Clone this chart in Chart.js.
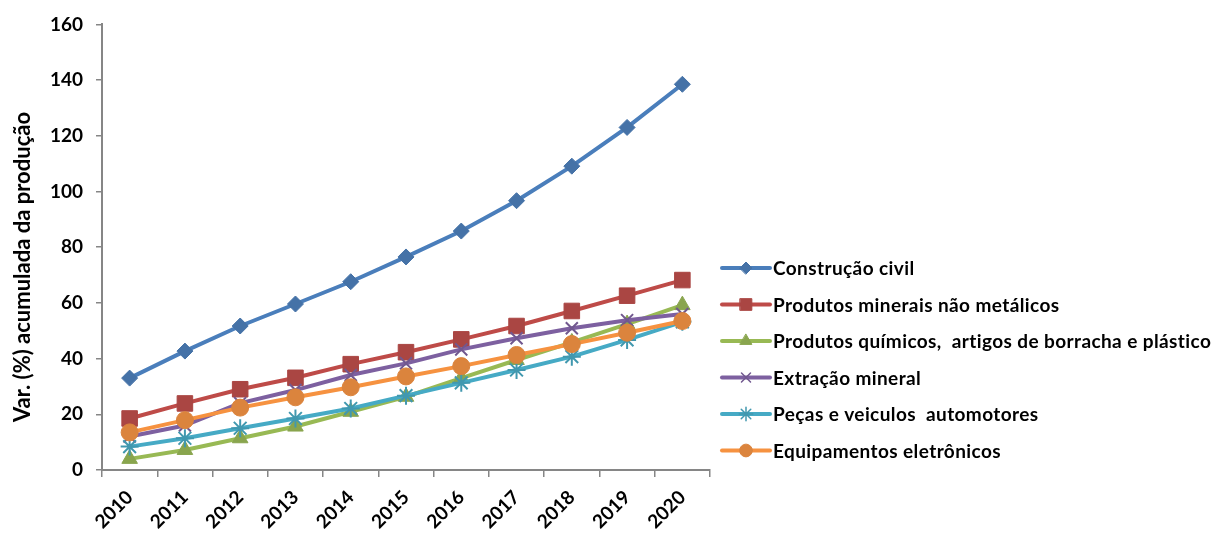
<!DOCTYPE html>
<html lang="pt">
<head>
<meta charset="utf-8">
<title>Var. (%) acumulada da produção</title>
<script src="https://cdn.jsdelivr.net/npm/chart.js@4.4.1/dist/chart.umd.min.js"></script>
<style>
    html, body { margin: 0; padding: 0; background: #fff; }
    #wrap { position: relative; width: 1223px; height: 534px; }
</style>
</head>
<body>
<div id="wrap"><canvas id="prodChart"></canvas></div>
<script>
// Variação acumulada da produção por setor, 2010-2020
const years = ['2010', '2011', '2012', '2013', '2014', '2015', '2016', '2017', '2018', '2019', '2020'];

const construcaoCivil = [33, 42.7, 51.7, 59.6, 67.6, 76.5, 85.8, 96.7, 109.1, 123, 138.5];
const mineraisNaoMetalicos = [18.5, 23.9, 29.0, 33.1, 38.0, 42.3, 46.9, 51.7, 57.1, 62.6, 68.2];
const quimicosBorracha = [4, 7.2, 11.4, 15.6, 20.9, 26.3, 33, 39.5, 45.8, 52.4, 59.2];
const extracaoMineral = [12, 16, 24, 28.7, 34.1, 38.3, 43.3, 47.3, 50.9, 53.8, 56];
const pecasVeiculos = [8.4, 11.4, 15.0, 18.5, 22.1, 26.7, 31.3, 35.9, 40.7, 46.7, 53.2];
const eletronicos = [13.5, 17.9, 22.4, 26.1, 29.7, 33.6, 37.3, 41.3, 45.2, 49.3, 53.5];

const yTicks = [0, 20, 40, 60, 80, 100, 120, 140, 160];

const FONT = 'Lato, "Open Sans", sans-serif';
const AXIS_GREY = '#868686';

const SERIES = [
    { label: 'Construção civil', data: construcaoCivil, line: '#4A7EBB', fill: '#4572A7', style: 'rectRot', r: 8 },
    { label: 'Produtos minerais não metálicos', data: mineraisNaoMetalicos, line: '#BE4B48', fill: '#AA4643', style: 'rect', r: 11 },
    { label: 'Produtos químicos,  artigos de borracha e plástico', data: quimicosBorracha, line: '#98B954', fill: '#89A54E', style: 'triangle', r: 9 },
    { label: 'Extração mineral', data: extracaoMineral, line: '#7D60A0', fill: '#71588F', style: 'crossRot', r: 8.5 },
    { label: 'Peças e veiculos  automotores', data: pecasVeiculos, line: '#46AAC5', fill: '#4198AF', style: 'star', r: 9 },
    { label: 'Equipamentos eletrônicos', data: eletronicos, line: '#F69240', fill: '#DB843D', style: 'circle', r: 8.5 },
];

const isStroke = (style) => style === 'crossRot' || style === 'star';

const datasets = SERIES.map((s, i) => ({
    label: s.label,
    data: s.data,
    borderColor: s.line,
    backgroundColor: s.fill,
    borderWidth: 4,
    borderJoinStyle: 'round',
    borderCapStyle: 'round',
    tension: 0,
    pointStyle: s.style,
    pointRadius: s.r,
    pointHoverRadius: s.r,
    pointBackgroundColor: s.fill,
    pointBorderColor: s.fill,
    pointBorderWidth: isStroke(s.style) ? 2 : 1,
    // later series sit on top
    order: SERIES.length - 1 - i,
}));

// legend on the right: line sample with marker, then label
const sideLegend = {
    id: 'sideLegend',
    afterDraw(chart) {
        const ctx = chart.ctx;
        const x0 = 722, x1 = 770, top = 268, step = 36.5;
        ctx.save();
        SERIES.forEach((s, i) => {
            const y = top + i * step;
            ctx.strokeStyle = s.line;
            ctx.lineWidth = 4;
            ctx.lineCap = 'round';
            ctx.beginPath();
            ctx.moveTo(x0, y);
            ctx.lineTo(x1, y);
            ctx.stroke();
            ctx.fillStyle = s.fill;
            ctx.strokeStyle = s.fill;
            ctx.lineWidth = isStroke(s.style) ? 1.5 : 1;
            Chart.helpers.drawPoint(ctx, { pointStyle: s.style, radius: s.r * 0.75, rotation: 0, borderWidth: ctx.lineWidth }, (x0 + x1) / 2, y);
            ctx.fillStyle = '#000';
            ctx.font = 'bold 19px ' + FONT;
            ctx.letterSpacing = '0.4px';
            ctx.textAlign = 'left';
            ctx.textBaseline = 'middle';
            ctx.fillText(s.label, x1 + 3, y + 1);
        });
        ctx.restore();
    },
};

// rotated y-axis title
const yTitle = {
    id: 'yTitle',
    afterDraw(chart) {
        const ctx = chart.ctx;
        ctx.save();
        ctx.translate(23, 267);
        ctx.rotate(-Math.PI / 2);
        ctx.fillStyle = '#000';
        ctx.font = 'bold 22px ' + FONT;
        ctx.textAlign = 'center';
        ctx.textBaseline = 'middle';
        ctx.fillText('Var. (%) acumulada da produção', 0, 0);
        ctx.restore();
    },
};

new Chart(document.getElementById('prodChart').getContext('2d'), {
    type: 'line',
    data: { labels: years, datasets },
    plugins: [sideLegend, yTitle],
    options: {
        responsive: true,
        maintainAspectRatio: false,
        animation: false,
        layout: { padding: { left: 0, right: 513, top: 24, bottom: 0 } },
        plugins: {
            legend: { display: false },
            tooltip: { enabled: false },
        },
        scales: {
            x: {
                type: 'category',
                offset: true,
                grid: {
                    offset: true,
                    drawOnChartArea: false,
                    drawTicks: true,
                    tickLength: 7,
                    color: AXIS_GREY,
                    lineWidth: 1.5,
                },
                border: { color: AXIS_GREY, width: 2 },
                ticks: {
                    color: '#000',
                    font: { family: FONT, size: 19, weight: 'bold' },
                    maxRotation: 45,
                    minRotation: 45,
                    padding: 9,
                    autoSkip: false,
                },
                afterFit(scale) { scale.height = 64; },
            },
            y: {
                min: 0,
                max: 160,
                afterBuildTicks(scale) { scale.ticks = yTicks.map((v) => ({ value: v })); },
                grid: {
                    drawOnChartArea: false,
                    drawTicks: true,
                    tickLength: 6,
                    color: AXIS_GREY,
                    lineWidth: 1.5,
                },
                border: { color: AXIS_GREY, width: 2 },
                ticks: {
                    color: '#000',
                    font: { family: FONT, size: 19, weight: 'bold' },
                    padding: 13,
                },
                afterFit(scale) { scale.width = 102; },
            },
        },
    },
});
</script>
</body>
</html>
